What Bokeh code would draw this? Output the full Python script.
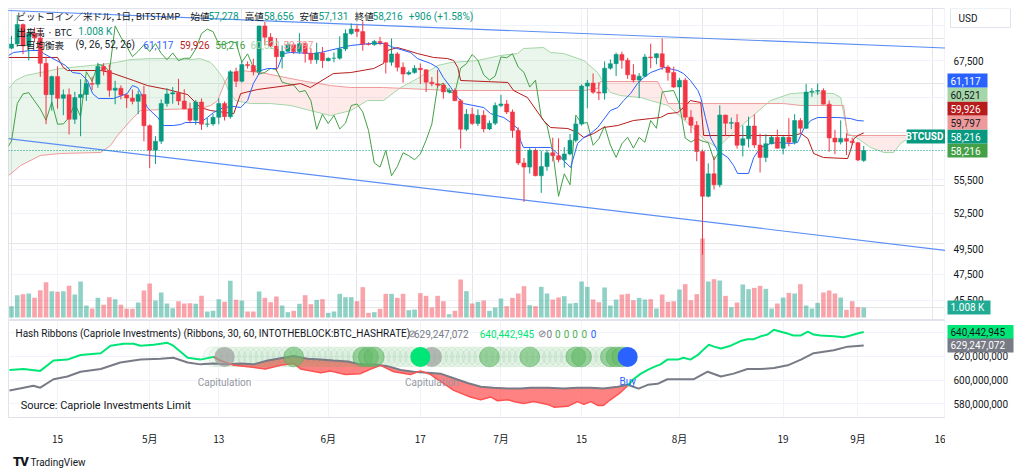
import numpy as np
from bokeh.plotting import figure
from bokeh.models import (Range1d, FixedTicker, Label, Div,
                          ColumnDataSource, LinearScale, Span, Grid)
from bokeh.layouts import column, row
from bokeh.embed import file_html
from bokeh.resources import INLINE
from bokeh.core.properties import value

# ---------------- daily candles BTC/USD (Bitstamp) 2024-04-07 .. 2024-09-02, index 0..148
opens = [68890, 69360, 71620, 69140, 70590, 70060, 67190, 63820, 65740, 63430,
         63810, 61280, 63510, 63840, 64990, 64930, 66840, 66410, 64290, 64500,
         63770, 63460, 63120, 63840, 60640, 58250, 59120, 62890, 63890, 64030,
         63160, 62330, 61190, 63050, 60790, 60820, 61480, 62900, 61550, 66270,
         65230, 67050, 66940, 66280, 71450, 70140, 69120, 67930, 68530, 69270,
         68510, 69400, 68300, 67590, 68350, 67490, 67750, 67760, 68800, 70560,
         71080, 70790, 69340, 69300, 69650, 69510, 67320, 68240, 66750, 66010,
         66190, 66640, 66490, 65140, 64960, 64830, 64100, 64250, 63180, 60280,
         61800, 60860, 61680, 60320, 60890, 62680, 62850, 62030, 60170, 57040,
         56650, 58230, 55850, 56700, 58000, 57720, 57340, 57890, 59200, 60800,
         64720, 65040, 64080, 63980, 66660, 67150, 68170, 67530, 65930, 65370,
         65790, 67900, 67810, 68250, 66780, 66190, 64620, 65350, 61500, 60680,
         58120, 53990, 56030, 55030, 61710, 60880, 60950, 58720, 59350, 60610,
         58740, 57560, 58870, 59490, 58440, 59490, 59010, 61160, 60380, 64090,
         64180, 64250, 62830, 59420, 59030, 59380, 59120, 58970, 57278]
highs = [70300, 72740, 71740, 71170, 71280, 71230, 67930, 65850, 66870, 64360,
         64470, 64120, 65450, 65410, 65710, 67250, 67200, 67070, 65290, 64800,
         63920, 64370, 64230, 64750, 60780, 59600, 63320, 64500, 64620, 65500,
         64390, 62980, 63260, 63420, 61430, 61820, 63440, 63110, 66450, 66710,
         67440, 67400, 67690, 71470, 71930, 70620, 70050, 69200, 69550, 69500,
         70600, 69550, 68880, 69500, 69020, 67850, 68410, 70240, 71050, 71740,
         71620, 71990, 69550, 69830, 70180, 69560, 69990, 68440, 67300, 66400,
         66990, 67180, 66500, 65700, 66460, 65040, 64520, 64490, 63360, 62330,
         62470, 62300, 62200, 61170, 63000, 63800, 63270, 62280, 60480, 57500,
         58450, 58410, 58200, 58280, 59450, 59400, 58540, 59820, 61400, 64900,
         65380, 66080, 65150, 67400, 67620, 68380, 68480, 67800, 67100, 66120,
         68230, 69400, 68320, 70000, 66990, 66830, 65600, 65600, 62200, 61100,
         58300, 57000, 57700, 62700, 61750, 61450, 61800, 60680, 61550, 61780,
         59850, 59800, 59650, 60250, 59600, 61400, 61800, 61400, 64950, 64500,
         65000, 64480, 63200, 60230, 61180, 59900, 59460, 59050, 58656]
lows = [68770, 69050, 68210, 67520, 69570, 65720, 60800, 62150, 62360, 61700,
        59770, 60820, 59600, 63170, 64310, 64550, 65870, 63600, 62820, 63330,
        62430, 62810, 61800, 59110, 56550, 56940, 58850, 62570, 62880, 62730,
        62310, 60880, 60730, 60220, 60490, 60630, 60780, 61160, 61340, 64620,
        65110, 66610, 65870, 66100, 69180, 68970, 66300, 66630, 68430, 68230,
        68270, 67260, 67140, 67150, 66680, 67400, 67300, 67600, 68550, 70410,
        70170, 68600, 69200, 69150, 69230, 66080, 66930, 66300, 65080, 65880,
        66050, 64960, 64080, 64700, 64530, 63400, 63930, 63180, 58400, 60100,
        60720, 60600, 60000, 60200, 60700, 62520, 61820, 59450, 56830, 53500,
        56050, 55800, 54300, 56300, 57180, 57100, 56600, 57760, 59000, 60650,
        62400, 63900, 63250, 63300, 66500, 65800, 66600, 65500, 65120, 63450,
        65700, 66650, 67080, 66480, 65300, 64500, 62300, 61200, 59900, 57200,
        49050, 53900, 54600, 54800, 59600, 60300, 58400, 57650, 58500, 58450,
        56150, 57120, 58800, 58400, 57850, 58620, 58800, 59800, 60300, 63600,
        63800, 62800, 58100, 57860, 58800, 57780, 58750, 57200, 57131]
closes = [69360, 71620, 69140, 70590, 70060, 67190, 63820, 65740, 63430, 63810,
          61280, 63510, 63840, 64990, 64930, 66840, 66410, 64290, 64500, 63770,
          63460, 63120, 63840, 60640, 58250, 59120, 62890, 63890, 64030, 63160,
          62330, 61190, 63050, 60790, 60820, 61480, 62900, 61550, 66270, 65230,
          67050, 66940, 66280, 71450, 70140, 69120, 67930, 68530, 69270, 68510,
          69400, 68300, 67590, 68350, 67490, 67750, 67760, 68800, 70560, 71080,
          70790, 69340, 69300, 69650, 69510, 67320, 68240, 66750, 66010, 66190,
          66640, 66490, 65140, 64960, 64830, 64100, 64250, 63180, 60280, 61800,
          60860, 61680, 60320, 60890, 62680, 62850, 62030, 60170, 57040, 56650,
          58230, 55850, 56700, 58000, 57720, 57340, 57890, 59200, 60800, 64720,
          65040, 64080, 63980, 66660, 67150, 68170, 67530, 65930, 65370, 65790,
          67900, 67810, 68250, 66780, 66190, 64620, 65350, 61500, 60680, 58120,
          53990, 56030, 55030, 61710, 60880, 60950, 58720, 59350, 60610, 58740,
          57560, 58870, 59490, 58440, 59490, 59010, 61160, 60380, 64090, 64180,
          64250, 62830, 59420, 59030, 59380, 59120, 58970, 57310, 58216]
volumes = [1142, 2251, 2352, 2419, 1982, 2755, 3562, 2654, 2587, 2654,
           3192, 2318, 3629, 1210, 907, 1982, 1277, 2050, 1848, 1277,
           874, 874, 1512, 2722, 3427, 1714, 2520, 1411, 941, 1646,
           1411, 1445, 1378, 2184, 605, 672, 1848, 1579, 3696, 1781,
           1714, 605, 605, 2621, 1982, 1546, 2117, 1210, 538, 672,
           1378, 2251, 1344, 1781, 1848, 470, 605, 2386, 2050, 2050,
           1646, 3058, 470, 538, 874, 2386, 2386, 1982, 2386, 739,
           806, 2453, 2184, 1008, 2184, 1646, 336, 672, 3830, 2654,
           1411, 1579, 1714, 672, 1008, 1915, 1142, 1982, 2419, 3158,
           1243, 1142, 3091, 2419, 1814, 2016, 2150, 1411, 1478, 3629,
           3091, 1814, 1546, 3024, 1210, 1814, 2318, 2386, 1747, 1982,
           1814, 1848, 907, 2318, 1579, 1646, 2822, 3360, 1747, 2352,
           7960, 3629, 3864, 3730, 2184, 1042, 1512, 3326, 2856, 2990,
           3192, 2890, 907, 1411, 2016, 2486, 2419, 3360, 1210, 907,
           1478, 2520, 2722, 2419, 2016, 773, 1646, 1042, 1008]

# ---------------- Ichimoku (9, 26, 52, 26) lines: (bar index, price)
tenkan_x = [-0.5, 0.35, 3.3, 5.0, 5.6, 9.4, 10.6, 12.0, 13.2, 14.1, 15.1, 17.7, 20.1, 21.0, 21.9,
            22.4, 23.6, 24.1, 25.4, 26.4, 28.1, 29.4, 30.2, 32.8, 34.0, 35.1, 36.8, 38.6, 39.8,
            41.0, 42.0, 43.3, 44.5, 46.2, 47.2, 48.5, 52.5, 53.7, 58.9, 62.4, 64.6, 66.4, 69.3,
            70.5, 72.8, 74.0, 75.0, 76.3, 77.5, 78.5, 82.0, 83.2, 85.5, 86.7, 87.9, 88.4, 88.9,
            91.4, 93.6, 94.8, 95.9, 97.1, 98.3, 99.4, 100.6, 101.8, 104.0, 105.3, 106.3, 107.5,
            108.7, 109.8, 111.0, 113.3, 115.7, 116.7, 117.9, 119.2, 119.7, 120.5, 121.4, 122.6,
            124.4, 125.4, 126.1, 128.0, 128.9, 130.1, 131.8, 133.1, 135.3, 136.5, 137.6, 138.8,
            140.0, 143.5, 145.7, 146.9, 148.0]
tenkan_y = [68060, 68400, 68620, 68620, 68280, 66950, 66180, 66070, 65320, 63930, 63410, 63410,
            63930, 64780, 64570, 64040, 62480, 62170, 61460, 60660, 60660, 60760, 60960, 60960,
            61460, 61970, 62480, 62590, 62480, 63200, 64990, 66400, 66620, 66620, 68280, 68400,
            68280, 68400, 69190, 69420, 69420, 68960, 68400, 67720, 67170, 66730, 65640, 64570,
            63510, 62890, 62480, 61860, 61460, 60960, 60360, 59180, 58510, 58510, 58510, 57930,
            57260, 56610, 58890, 59470, 59870, 60460, 62170, 62480, 63200, 63930, 64990, 65640,
            66180, 66730, 66400, 66070, 65320, 64250, 63510, 61460, 59470, 58210, 57550, 56800,
            56060, 56060, 57550, 58510, 58890, 58990, 58890, 58990, 60360, 61160, 61460, 61460,
            61360, 61160, 61117]
kijun_x = [-0.5, 8.0, 9.0, 9.7, 15.5, 17.2, 21.2, 23.6, 27.1, 30.6, 32.8, 34.6, 38.6, 39.8, 42.7,
           47.9, 50.2, 51.9, 55.9, 58.9, 62.9, 64.6, 65.3, 67.0, 68.8, 70.5, 73.3, 75.7, 76.8,
           77.5, 78.0, 86.2, 87.2, 89.6, 92.4, 93.6, 96.6, 98.3, 99.4, 101.1, 102.8, 105.3, 108.0,
           111.0, 112.7, 114.0, 115.7, 116.7, 117.9, 119.7, 120.2, 135.8, 137.1, 138.3, 139.3,
           141.0, 145.2, 145.7, 146.3, 147.0, 148.0]
kijun_y = [67840, 67840, 66730, 66400, 66400, 66180, 65320, 64780, 64360, 63820, 62480, 62170,
           61860, 63930, 64360, 64780, 64990, 64570, 66070, 66180, 66620, 67170, 68620, 68960,
           68620, 68280, 67840, 67720, 67500, 66730, 65320, 65110, 64250, 63510, 61160, 60460,
           60360, 59970, 59470, 59870, 60460, 60660, 61160, 61360, 61460, 61860, 61970, 62480,
           63200, 63000, 59670, 59670, 59870, 59370, 57930, 57550, 57450, 58210, 59370, 59670,
           59926]
spanA_x = [-0.5, 0.7, 2.4, 5.0, 8.5, 12.0, 15.5, 18.1, 20.7, 24.1, 27.6, 31.1, 32.8, 34.6, 35.4,
           36.7, 37.7, 38.9, 41.5, 45.0, 48.5, 51.9, 55.4, 58.9, 61.8, 64.6, 67.6, 70.5, 74.0,
           76.3, 80.9, 84.9, 87.9, 88.9, 92.4, 93.6, 95.9, 99.4, 101.8, 102.8, 104.0, 105.8,
           109.3, 111.0, 114.0, 117.9, 120.5, 122.6, 125.8, 128.4, 131.8, 135.3, 138.3, 142.8,
           144.0, 145.2, 147.0, 149.2, 151.5, 153.2, 154.4, 155.6, 162.2, 172.8]
spanA_y = [64460, 65320, 65850, 66180, 66620, 66840, 67060, 67280, 67610, 67720, 67720, 67610,
           67720, 67280, 66730, 65640, 64250, 63200, 62890, 62890, 62690, 62170, 61660, 62170,
           63200, 63200, 64570, 65530, 66950, 67280, 67500, 68060, 68280, 68850, 68960, 68400,
           68280, 67500, 66180, 65110, 64040, 63720, 63510, 63200, 62690, 60660, 59180, 58510,
           60160, 61460, 63200, 63930, 64040, 63930, 63510, 59870, 59370, 58510, 58030, 58030,
           58890, 59370, 59670, 60521]
spanB_x = [-0.5, 1.6, 5.0, 8.5, 15.5, 17.2, 18.4, 20.7, 22.4, 25.9, 32.8, 34.6, 35.8, 37.2, 38.0,
           39.8, 43.3, 50.2, 55.4, 58.9, 64.6, 76.3, 99.4, 101.8, 102.3, 112.2, 113.3, 114.0,
           134.1, 137.1, 144.5, 145.2, 162.2, 172.8]
spanB_y = [55870, 56800, 57740, 57930, 58030, 58700, 59670, 61160, 62170, 62270, 62380, 62690,
           63200, 65320, 66070, 66400, 66180, 65320, 64780, 64570, 64570, 64250, 64250, 64460,
           65210, 65210, 63930, 62890, 62890, 62690, 62690, 59670, 59670, 59797]
LAG = 25  # lagging span = close shifted back

# falling channel drawn on the chart: (bar index, price)
chan_upper_x = [-0.6, 162.4]
chan_upper_y = [73290, 68900]
chan_lower_x = [-0.6, 162.4]
chan_lower_y = [59370, 49390]

# ---------------- Hash Ribbons (30 / 60 SMA of hashrate, millions)
h30_x = [-0.35, 2.1, 5.0, 7.3, 9.7, 12.0, 15.5, 17.2, 19.5, 21.2, 22.4, 24.7, 27.1, 28.1, 30.6,
         32.8, 35.1, 36.3, 38.6, 41.5, 44.1, 46.7, 49.0, 50.2, 53.7, 55.4, 58.0, 60.6, 62.4, 64.1,
         66.4, 69.3, 71.0, 72.8, 76.8, 79.7, 81.5, 83.2, 84.4, 86.2, 87.2, 88.9, 90.7, 93.1, 94.2,
         96.6, 98.3, 99.4, 100.6, 101.8, 102.8, 104.0, 105.8, 107.0, 108.0, 109.3, 110.5, 111.5,
         112.7, 113.9, 115.7, 116.7, 117.9, 119.2, 120.2, 121.1, 122.0, 123.2, 124.9, 126.6,
         127.8, 128.9, 130.1, 131.3, 132.4, 133.6, 134.8, 135.8, 137.1, 138.3, 139.3, 140.5,
         142.8, 144.5, 145.7, 146.9, 148.0]
h30_m = [608.6, 609.4, 607.8, 616.5, 617.3, 621.2, 622.7, 629.0, 630.6, 630.6, 629.0, 629.8,
         631.4, 629.0, 618.8, 617.3, 619.6, 616.5, 612.5, 611.0, 609.4, 612.5, 614.1, 609.4,
         606.3, 607.8, 604.7, 605.5, 609.4, 612.5, 607.1, 604.7, 607.8, 604.7, 591.4, 585.9,
         583.5, 585.9, 582.7, 583.5, 582.0, 580.4, 582.0, 579.6, 577.3, 578.0, 582.0, 579.6,
         582.0, 578.8, 578.8, 583.5, 589.8, 595.3, 600.8, 605.5, 608.6, 611.0, 613.3, 617.3,
         617.3, 618.8, 617.3, 621.2, 625.9, 629.8, 628.2, 626.7, 629.0, 632.9, 634.5, 634.5,
         636.9, 638.4, 642.4, 640.8, 639.2, 637.6, 637.6, 640.8, 638.4, 637.6, 636.9, 636.1,
         637.6, 639.2, 640.443]
h60_x = [-0.35, 2.1, 3.8, 5.0, 7.3, 9.7, 12.0, 15.5, 18.9, 22.4, 25.9, 28.1, 30.6, 32.8, 35.1,
         37.5, 39.8, 42.0, 44.5, 49.0, 51.4, 53.7, 55.9, 58.4, 60.6, 62.9, 65.3, 67.6, 69.8,
         72.3, 74.5, 76.8, 79.2, 81.5, 83.7, 86.2, 88.4, 90.2, 93.1, 95.9, 98.3, 100.6, 102.8,
         105.3, 107.0, 108.9, 110.5, 112.2, 113.9, 116.2, 118.5, 120.9, 123.2, 125.4, 127.8,
         130.1, 132.4, 134.8, 137.1, 139.3, 142.8, 145.2, 148.0]
h60_m = [591.4, 593.7, 595.3, 593.7, 600.8, 603.1, 607.1, 609.4, 614.9, 617.3, 618.0, 618.8,
         614.9, 613.3, 614.1, 613.3, 614.1, 613.3, 616.5, 620.4, 618.0, 617.3, 616.5, 615.7,
         613.3, 613.3, 611.8, 608.6, 607.1, 606.3, 605.5, 601.6, 597.6, 594.5, 593.7, 592.9,
         592.9, 593.7, 593.7, 592.9, 593.7, 593.7, 592.9, 594.5, 596.1, 592.9, 596.1, 596.9,
         600.8, 600.8, 600.8, 607.1, 603.1, 605.5, 609.4, 609.4, 610.2, 612.5, 617.3, 622.7,
         625.1, 628.2, 629.247]
cap_start, cap_end = 36.3, 107.0
band_bars = list(range(35, 108))
gray_dots = [37, 73]
green_dots = [49, 61, 62, 63, 83, 90, 98, 99, 104, 105, 106]
lime_dots = [71]
blue_dots = [107]
capitulation_bars = [37, 73]
buy_bars = [107]

# axis ticks
date_ticks = [8, 24, 36, 55, 71, 85, 99, 116, 134, 147, 162]
date_labels = ["15", "5月", "13", "6月", "17", "7月", "15", "8月", "19", "9月", "16"]
price_ticks = [45500, 47500, 49500, 52500, 55500, 59500, 63500, 67500, 71500]
shown_price_ticks = [45500, 47500, 49500, 52500, 55500, 67500]
hash_ticks = [580e6, 600e6, 620e6, 640e6]
shown_hash_ticks = [580e6, 600e6, 620e6]

UP, DOWN = "#089981", "#F23645"
GRID = "#f0f3fa"
EDGE = "#e0e3eb"
TXT = "#131722"
JP = "Noto Sans CJK JP"
RB = "Roboto"

PW = 945      # pane width incl. 8px left border -> frame 937px
AW = 72       # price-scale column
x_rng = Range1d(-0.52, 162.2)
y_rng = Range1d(44020, 73530)
vol_rng = Range1d(-302, 31148)
h_rng = Range1d(568.6e6, 650.2e6)


def bare(fig):
    fig.background_fill_color = "white"
    fig.border_fill_color = "white"


# ================= price pane =================
p = figure(width=PW, height=320, x_range=x_rng, y_range=y_rng, y_axis_type="log",
           x_axis_location=None, y_axis_location=None,
           output_backend="svg", toolbar_location=None,
           min_border_left=8, min_border_top=8, min_border_bottom=0, min_border_right=0)
bare(p)
p.outline_line_color = EDGE
p.extra_y_ranges = {"vol": vol_rng}
p.extra_y_scales = {"vol": LinearScale()}
p.add_layout(Grid(dimension=0, ticker=FixedTicker(ticks=date_ticks), grid_line_color=GRID))
p.add_layout(Grid(dimension=1, ticker=FixedTicker(ticks=price_ticks), grid_line_color=GRID))

# cloud
gx = np.linspace(-0.6, 163, 1400)
ga = np.interp(gx, spanA_x, spanA_y)
gb = np.interp(gx, spanB_x, spanB_y)
p.varea(x=gx, y1=gb, y2=np.maximum(ga, gb), fill_color="#43A047", fill_alpha=0.11)
p.varea(x=gx, y1=ga, y2=np.maximum(ga, gb), fill_color="#F44336", fill_alpha=0.11)
p.line(spanA_x, spanA_y, line_color="#A5D6A7", line_width=1)
p.line(spanB_x, spanB_y, line_color="#EF9A9A", line_width=1)

# volume
n = len(closes)
bars = np.arange(n)
colors = [UP if c >= o else DOWN for o, c in zip(opens, closes)]
src = ColumnDataSource(dict(x=bars, o=opens, h=highs, l=lows, c=closes,
                            top=np.maximum(opens, closes), bot=np.minimum(opens, closes),
                            col=colors, vol=volumes))
p.vbar(x="x", width=0.8, top="vol", bottom=0, source=src, y_range_name="vol",
       fill_color="col", line_color=None, fill_alpha=0.45)

# channel
p.line(chan_upper_x, chan_upper_y, line_color="#5b8ff5", line_width=1.2)
p.line(chan_lower_x, chan_lower_y, line_color="#5b8ff5", line_width=1.2)

# ichimoku lines
p.line(bars - LAG, closes, line_color="#43A047", line_width=1)
p.line(kijun_x, kijun_y, line_color="#B71C1C", line_width=1)
p.line(tenkan_x, tenkan_y, line_color="#2962FF", line_width=1)

p.add_layout(Span(location=closes[-1], dimension="width", line_color=UP,
                  line_dash="1 2", line_width=1))

# candles
p.segment(x0="x", y0="h", x1="x", y1="l", source=src, line_color="col", line_width=1)
p.vbar(x="x", width=0.72, top="top", bottom="bot", source=src,
       fill_color="col", line_color="col", line_width=0.5)


def lab(fig, x, y, text, color, font=RB, size="10px", **kw):
    fig.add_layout(Label(x=x, y=y, text=text, text_color=color, text_font=font,
                         text_font_size=size, text_baseline="middle", **kw))


# legend lines
y1, y2, y3 = 72570, 70800, 69300
lab(p, 0.87, y1, "ビットコイン／米ドル, 1日, BITSTAMP", TXT, JP, "9.5px")
for xx, s, col, f, sz in [(31.1, "始値", TXT, JP, "9.5px"), (34.2, "57,278", UP, RB, "10px"),
                          (40.5, "高値", TXT, JP, "9.5px"), (43.8, "58,656", UP, RB, "10px"),
                          (50.0, "安値", TXT, JP, "9.5px"), (53.3, "57,131", UP, RB, "10px"),
                          (59.6, "終値", TXT, JP, "9.5px"), (62.7, "58,216", UP, RB, "10px"),
                          (69.0, "+906 (+1.58%)", UP, RB, "10px")]:
    lab(p, xx, y1, s, col, f, sz)
lab(p, 0.87, y2, "出来高 · BTC", TXT, JP, "9.5px")
lab(p, 11.6, y2, "1.008 K", UP, RB)
lab(p, 0.87, y3, "一目均衡表", TXT, JP, "9.5px")
lab(p, 7.8, y3, "⊘", "#787B86", RB, "9px")
lab(p, 11.1, y3, "(9, 26, 52, 26)", TXT, RB)
for xx, s, col in [(22.9, "61,117", "#2962FF"), (29.2, "59,926", "#B71C1C"),
                   (35.4, "58,216", "#43A047"), (41.5, "60,521", "#A5D6A7"),
                   (47.2, "59,797", "#EF9A9A")]:
    lab(p, xx, y3, s, col)

# ================= price scale column =================
pa = figure(width=AW, height=320, x_range=Range1d(0, AW), y_range=y_rng, y_axis_type="log",
            x_axis_location=None, y_axis_location=None, output_backend="svg",
            toolbar_location=None, min_border_left=0, min_border_top=8,
            min_border_bottom=0, min_border_right=0)
bare(pa)
pa.outline_line_color = None
pa.grid.visible = False
pa.extra_y_ranges = {"vol": vol_rng}
pa.extra_y_scales = {"vol": LinearScale()}
pa.text(x=[8] * len(shown_price_ticks), y=shown_price_ticks,
        text=[f"{t:,}" for t in shown_price_ticks], text_color=TXT, text_font=value(RB),
        text_font_size="10px", text_baseline="middle", text_align="left")


def tag(fig, x, y, w, text, bg, fg, **kw):
    fig.rect(x=[x + w / 2], y=[y], width=w, height=14, width_units="data",
             height_units="screen", fill_color=bg, line_color=None, **kw)
    fig.text(x=[x + 3], y=[y], text=[text], text_color=fg, text_font=value(RB),
             text_font_size="10px", text_baseline="middle", text_align="left", **kw)


# stacked tags like TradingView
tags = [(closes[-1], "#43A047", "white", False),
        (closes[-1], UP, "white", True),
        (spanB_y[-1], "#EF9A9A", TXT, False),
        (kijun_y[-1], "#B71C1C", "white", False),
        (spanA_y[-1], "#A5D6A7", TXT, False),
        (tenkan_y[-1], "#2962FF", "white", False)]
step = 14 / 608.0
prev = None
for v, bg, fg, sym in tags:
    pos = np.log(v) if prev is None else max(np.log(v), prev + step)
    prev = pos
    yv = float(np.exp(pos))
    tag(pa, 2, yv, 40, f"{v:,.0f}", bg, fg)
    if sym:
        p.rect(x=[158.85], y=[yv], width=6.8, height=14, height_units="screen",
               fill_color=bg, line_color=None)
        p.text(x=[161.85], y=[yv], text=["BTCUSD"], text_color="white", text_font=value(RB),
               text_font_size="10px", text_font_style="bold", text_baseline="middle",
               text_align="right")
tag(pa, 2, volumes[-1], 43, "1.008 K", "#22ab94", "white", y_range_name="vol")
pa.rect(x=[35], y=[72390], width=60, height=19, height_units="screen",
        fill_color="white", line_color=EDGE)
pa.text(x=[13], y=[72390], text=["USD"], text_color=TXT, text_font=value(RB),
        text_font_size="10px", text_baseline="middle")

# ================= hash ribbons pane =================
q = figure(width=PW, height=128, x_range=x_rng, y_range=h_rng,
           y_axis_location=None, output_backend="svg", toolbar_location=None,
           min_border_left=8, min_border_top=0, min_border_bottom=24, min_border_right=0)
bare(q)
q.outline_line_color = EDGE
q.xaxis.ticker = FixedTicker(ticks=date_ticks)
q.xaxis.major_label_overrides = dict(zip(date_ticks, date_labels))
q.xaxis.major_tick_line_color = None
q.xaxis.minor_tick_line_color = None
q.xaxis.axis_line_color = EDGE
q.xaxis.major_label_text_font = JP
q.xaxis.major_label_text_font_size = "10px"
q.xaxis.major_label_text_color = TXT
q.xaxis.major_label_standoff = 7
q.xgrid.grid_line_color = GRID
q.add_layout(Grid(dimension=1, ticker=FixedTicker(ticks=hash_ticks), grid_line_color=GRID))

h30 = np.array(h30_m) * 1e6
h60 = np.array(h60_m) * 1e6
hx = np.linspace(-0.6, 148, 1200)
i30 = np.interp(hx, h30_x, h30)
i60 = np.interp(hx, h60_x, h60)
q.varea(x=hx, y1=i30, y2=np.maximum(i30, i60), fill_color="#FF5252", fill_alpha=0.72)

BAND_Y = 619.6e6
q.scatter(band_bars, [BAND_Y] * len(band_bars), size=20, fill_color="#4CAF50",
          fill_alpha=0.06, line_color="#4CAF50", line_alpha=0.12)
q.line(h60_x, h60, line_color="#787B86", line_width=2)
h30x = np.array(h30_x)
seg_a = h30x <= cap_start
seg_b = (h30x >= cap_start - 1.3) & (h30x <= cap_end)
seg_c = h30x >= cap_end
q.line(h30x[seg_a], h30[seg_a], line_color="#00E676", line_width=2)
q.line(h30x[seg_b], h30[seg_b], line_color="#FF5252", line_width=1.5)
q.line(h30x[seg_c], h30[seg_c], line_color="#00E676", line_width=2)

q.scatter(gray_dots, [BAND_Y] * len(gray_dots), size=20, fill_color="#9e9e9e",
          fill_alpha=0.7, line_color=None)
q.scatter(green_dots, [BAND_Y] * len(green_dots), size=20, fill_color="#66bb6a",
          fill_alpha=0.6, line_color="#43A047", line_alpha=0.3)
q.scatter(lime_dots, [BAND_Y] * len(lime_dots), size=20, fill_color="#00E676",
          line_color=None)
q.scatter(blue_dots, [BAND_Y] * len(blue_dots), size=20, fill_color="#2962FF",
          line_color=None)
q.text(x=capitulation_bars, y=[598.4e6] * len(capitulation_bars),
       text=["Capitulation"] * len(capitulation_bars), text_color="#9598a1",
       text_font=value(RB), text_font_size="10px", text_align="center",
       text_baseline="middle")
q.text(x=buy_bars, y=[599.0e6], text=["Buy"], text_color="#2962FF", text_font=value(RB),
       text_font_size="10px", text_align="center", text_baseline="middle")
q.text(x=[1.6], y=[578.5e6], text=["Source: Capriole Investments Limit"], text_color=TXT,
       text_font=value(RB), text_font_size="11px", text_align="left", text_baseline="middle")

hy = 639.2e6
lab(q, 0.7, hy, "Hash Ribbons (Capriole Investments) (Ribbons, 30, 60, INTOTHEBLOCK:BTC_HASHRATE)", TXT)
for xx, s, col in [(68.8, "⊘", "#787B86"), (69.9, "629,247,072", "#787B86"),
                   (81.3, "640,442,945", "#00E676"), (91.4, "⊘", "#787B86"),
                   (92.9, "0", "#787B86"), (94.4, "0", "#4CAF50"), (95.9, "0", "#4CAF50"),
                   (97.4, "0", "#4CAF50"), (99.0, "0", "#4CAF50"), (100.6, "0", "#2962FF")]:
    lab(q, xx, hy, s, col)

# hash price-scale column
qa = figure(width=AW, height=128, x_range=Range1d(0, AW), y_range=h_rng,
            x_axis_location=None, y_axis_location=None, output_backend="svg",
            toolbar_location=None, min_border_left=0, min_border_top=0,
            min_border_bottom=24, min_border_right=0)
bare(qa)
qa.outline_line_color = None
qa.grid.visible = False
qa.text(x=[8] * len(shown_hash_ticks), y=shown_hash_ticks,
        text=[f"{t:,.0f}" for t in shown_hash_ticks], text_color=TXT, text_font=value(RB),
        text_font_size="10px", text_baseline="middle", text_align="left")
tag(qa, 2, h30_m[-1] * 1e6, 66, "640,442,945", "#00E676", TXT)
tag(qa, 2, h60_m[-1] * 1e6, 66, "629,247,072", "#787B86", "white")

footer = Div(text='<span style="font-weight:900;font-size:13px;letter-spacing:-1px">TV</span>'
                  '&nbsp;TradingView',
             styles={"font-family": "Roboto", "font-size": "10px", "color": "#131722",
                     "padding-left": "8px", "padding-top": "0px"},
             width=200, height=24)

layout = column(row(p, pa, spacing=0), row(q, qa, spacing=0), footer, spacing=0)
open("out.html", "w").write(file_html(layout, INLINE))
